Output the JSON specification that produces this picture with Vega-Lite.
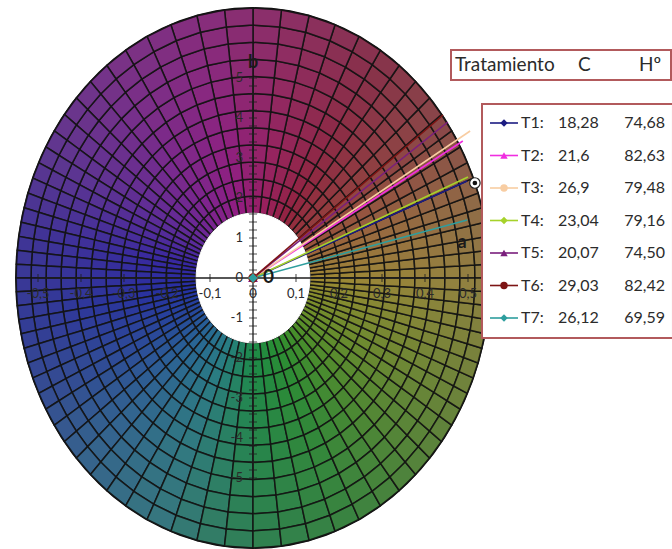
{
  "$schema": "https://vega.github.io/schema/vega-lite/v6.json",
  "width": 672,
  "height": 549,
  "padding": 0,
  "autosize": {"type": "none"},
  "background": "white",
  "config": {
    "view": {"stroke": null},
    "text": {"font": "Lato", "color": "#2b2b2b"},
    "locale": {"number": {"decimal": ",", "thousands": ".", "grouping": [3], "currency": ["", " €"], "minus": "-"}}
  },
  "datasets": {
    "hues": [
      {"h":0},{"h":4.5},{"h":9},{"h":13.5},{"h":18},{"h":22.5},{"h":27},{"h":31.5},{"h":36},{"h":40.5},
      {"h":45},{"h":49.5},{"h":54},{"h":58.5},{"h":63},{"h":67.5},{"h":72},{"h":76.5},{"h":81},{"h":85.5},
      {"h":90},{"h":94.5},{"h":99},{"h":103.5},{"h":108},{"h":112.5},{"h":117},{"h":121.5},{"h":126},{"h":130.5},
      {"h":135},{"h":139.5},{"h":144},{"h":148.5},{"h":153},{"h":157.5},{"h":162},{"h":166.5},{"h":171},{"h":175.5},
      {"h":180},{"h":184.5},{"h":189},{"h":193.5},{"h":198},{"h":202.5},{"h":207},{"h":211.5},{"h":216},{"h":220.5},
      {"h":225},{"h":229.5},{"h":234},{"h":238.5},{"h":243},{"h":247.5},{"h":252},{"h":256.5},{"h":261},{"h":265.5},
      {"h":270},{"h":274.5},{"h":279},{"h":283.5},{"h":288},{"h":292.5},{"h":297},{"h":301.5},{"h":306},{"h":310.5},
      {"h":315},{"h":319.5},{"h":324},{"h":328.5},{"h":333},{"h":337.5},{"h":342},{"h":346.5},{"h":351},{"h":355.5}
    ],
    "rings": [
      {"k":0,"f0":0.24,"f1":0.3033},{"k":1,"f0":0.3033,"f1":0.3667},{"k":2,"f0":0.3667,"f1":0.43},
      {"k":3,"f0":0.43,"f1":0.4933},{"k":4,"f0":0.4933,"f1":0.5567},{"k":5,"f0":0.5567,"f1":0.62},
      {"k":6,"f0":0.62,"f1":0.6833},{"k":7,"f0":0.6833,"f1":0.7467},{"k":8,"f0":0.7467,"f1":0.81},
      {"k":9,"f0":0.81,"f1":0.8733},{"k":10,"f0":0.8733,"f1":0.9367},{"k":11,"f0":0.9367,"f1":1.0}
    ],
    "treat": [
      {"t":"T1","n":1,"C":"18,28","H":"74,68","ea":0.498,"eb":2.425},
      {"t":"T2","n":2,"C":"21,6","H":"82,63","ea":0.488,"eb":3.425},
      {"t":"T3","n":3,"C":"26,9","H":"79,48","ea":0.505,"eb":3.675},
      {"t":"T4","n":4,"C":"23,04","H":"79,16","ea":0.5,"eb":2.525},
      {"t":"T5","n":5,"C":"20,07","H":"74,50","ea":0.453,"eb":3.9},
      {"t":"T6","n":6,"C":"29,03","H":"82,42","ea":0.442,"eb":4.075},
      {"t":"T7","n":7,"C":"26,12","H":"69,59","ea":0.498,"eb":1.45}
    ],
    "xt": [{"v":-0.5},{"v":-0.4},{"v":-0.3},{"v":-0.2},{"v":-0.1},{"v":0},{"v":0.1},{"v":0.2},{"v":0.3},{"v":0.4},{"v":0.5}],
    "yt": [
      {"v":-5},{"v":-4.8},{"v":-4.6},{"v":-4.4},{"v":-4.2},{"v":-4},{"v":-3.8},{"v":-3.6},{"v":-3.4},{"v":-3.2},
      {"v":-3},{"v":-2.8},{"v":-2.6},{"v":-2.4},{"v":-2.2},{"v":-2},{"v":-1.8},{"v":-1.6},{"v":-1.4},{"v":-1.2},
      {"v":-1},{"v":-0.8},{"v":-0.6},{"v":-0.4},{"v":-0.2},{"v":0},{"v":0.2},{"v":0.4},{"v":0.6},{"v":0.8},
      {"v":1},{"v":1.2},{"v":1.4},{"v":1.6},{"v":1.8},{"v":2},{"v":2.2},{"v":2.4},{"v":2.6},{"v":2.8},
      {"v":3},{"v":3.2},{"v":3.4},{"v":3.6},{"v":3.8},{"v":4},{"v":4.2},{"v":4.4},{"v":4.6},{"v":4.8},{"v":5}
    ],
    "yl": [{"v":-5},{"v":-4},{"v":-3},{"v":-2},{"v":-1},{"v":0},{"v":1},{"v":2},{"v":3},{"v":4},{"v":5}]
  },
  "resolve": {"scale": {"x": "independent", "y": "independent"}},
  "layer": [
    {
      "data": {"name": "hues"},
      "transform": [
        {"calculate": "0.551*cos(datum.h*PI/180)", "as": "x"},
        {"calculate": "6.75*sin(datum.h*PI/180)", "as": "y"}
      ],
      "mark": {"type": "line", "interpolate": "linear-closed", "fill": "#676070", "stroke": "#121212", "strokeWidth": 2},
      "encoding": {
        "x": {"field": "x", "type": "quantitative", "scale": {"domain": [-0.58837, 0.97442], "nice": false, "zero": false}, "axis": null},
        "y": {"field": "y", "type": "quantitative", "scale": {"domain": [-6.775, 6.95], "nice": false, "zero": false}, "axis": null},
        "order": {"field": "h", "type": "quantitative"}
      }
    },
    {
      "data": {"name": "hues"},
      "transform": [
        {"calculate": "[0,1,2,3,4,5,6,7,8,9,10,11]", "as": "k"},
        {"flatten": ["k"]},
        {"lookup": "k", "from": {"data": {"name": "rings"}, "key": "k", "fields": ["f0", "f1"]}},
        {"calculate": "[0,1,2,3]", "as": "v"},
        {"flatten": ["v"]},
        {"calculate": "(datum.v < 2 ? datum.h : datum.h + 4.5) * PI / 180", "as": "ph"},
        {"calculate": "atan2(0.65*sin(datum.ph), cos(datum.ph))", "as": "ps"},
        {"calculate": "(datum.v == 0 || datum.v == 3) ? datum.f0 : datum.f1", "as": "f"},
        {"calculate": "0.551*datum.f*cos(datum.ps)", "as": "x"},
        {"calculate": "6.75*datum.f*sin(datum.ps)", "as": "y"},
        {"calculate": "(atan2(0.74*sin((datum.h + 2.25)*PI/180), cos((datum.h + 2.25)*PI/180))*180/PI + 360) % 360", "as": "hp"},
        {"calculate": "datum.h + '_' + datum.k", "as": "cell"}
      ],
      "mark": {"type": "line", "interpolate": "linear-closed", "stroke": "#141414", "strokeWidth": 1.5, "strokeOpacity": 0.9},
      "encoding": {
        "x": {"field": "x", "type": "quantitative", "scale": {"domain": [-0.58837, 0.97442], "nice": false, "zero": false}, "axis": null},
        "y": {"field": "y", "type": "quantitative", "scale": {"domain": [-6.775, 6.95], "nice": false, "zero": false}, "axis": null},
        "detail": {"field": "cell", "type": "nominal"},
        "order": {"field": "v", "type": "quantitative"},
        "fill": {
          "field": "hp", "type": "quantitative", "legend": null,
          "scale": {
            "domain": [0, 20, 40, 60, 80, 100, 125, 150, 170, 190, 210, 230, 250, 270, 290, 310, 330, 350, 360],
            "range": ["#a08a34", "#9d6b3a", "#953f3c", "#92243f", "#99205c", "#921d80", "#7c248f", "#5a2a9a", "#3427a2", "#2430a2", "#26489c", "#286894", "#287e82", "#1d8b48", "#2a8e32", "#4c8e2a", "#6e8e2a", "#8e8c2e", "#a08a34"],
            "interpolate": "rgb"
          }
        },
        "fillOpacity": {"field": "k", "type": "quantitative", "legend": null, "scale": {"domain": [0, 11], "range": [1, 0.76]}}
      }
    },
    {
      "data": {"name": "hues"},
      "transform": [
        {"calculate": "0.551*0.24*cos(datum.h*PI/180)", "as": "x"},
        {"calculate": "6.75*0.24*sin(datum.h*PI/180)", "as": "y"}
      ],
      "mark": {"type": "line", "interpolate": "linear-closed", "fill": "white", "stroke": "white", "strokeWidth": 1},
      "encoding": {
        "x": {"field": "x", "type": "quantitative", "scale": {"domain": [-0.58837, 0.97442], "nice": false, "zero": false}, "axis": null},
        "y": {"field": "y", "type": "quantitative", "scale": {"domain": [-6.775, 6.95], "nice": false, "zero": false}, "axis": null},
        "order": {"field": "h", "type": "quantitative"}
      }
    },
    {
      "data": {"name": "treat"},
      "transform": [{"calculate": "0", "as": "o"}],
      "mark": {"type": "rule", "strokeWidth": 1.6},
      "encoding": {
        "x": {"field": "o", "type": "quantitative", "scale": {"domain": [-0.58837, 0.97442], "nice": false, "zero": false}, "axis": null},
        "y": {"field": "o", "type": "quantitative", "scale": {"domain": [-6.775, 6.95], "nice": false, "zero": false}, "axis": null},
        "x2": {"field": "ea"},
        "y2": {"field": "eb"},
        "color": {"field": "t", "type": "nominal", "legend": null,
          "scale": {"domain": ["T1","T2","T3","T4","T5","T6","T7"], "range": ["#1c1c82", "#f02ee0", "#f8cda2", "#a6d22a", "#7a1f7c", "#7d1414", "#2e9e9e"]}}
      }
    },
    {
      "data": {"values": [{"p": -0.5, "q": 0.5, "z": 0}]},
      "mark": {"type": "rule", "color": "#1e1e1e", "strokeWidth": 1.3},
      "encoding": {
        "x": {"field": "p", "type": "quantitative", "scale": {"domain": [-0.58837, 0.97442], "nice": false, "zero": false}, "axis": null},
        "x2": {"field": "q"},
        "y": {"field": "z", "type": "quantitative", "scale": {"domain": [-6.775, 6.95], "nice": false, "zero": false}, "axis": null}
      }
    },
    {
      "data": {"values": [{"p": -5, "q": 5, "z": 0}]},
      "mark": {"type": "rule", "color": "#1e1e1e", "strokeWidth": 1.3},
      "encoding": {
        "x": {"field": "z", "type": "quantitative", "scale": {"domain": [-0.58837, 0.97442], "nice": false, "zero": false}, "axis": null},
        "y": {"field": "p", "type": "quantitative", "scale": {"domain": [-6.775, 6.95], "nice": false, "zero": false}, "axis": null},
        "y2": {"field": "q"}
      }
    },
    {
      "data": {"name": "xt"},
      "transform": [{"calculate": "0", "as": "z"}],
      "mark": {"type": "tick", "orient": "vertical", "size": 8, "thickness": 1.2, "color": "#1e1e1e"},
      "encoding": {
        "x": {"field": "v", "type": "quantitative", "scale": {"domain": [-0.58837, 0.97442], "nice": false, "zero": false}, "axis": null},
        "y": {"field": "z", "type": "quantitative", "scale": {"domain": [-6.775, 6.95], "nice": false, "zero": false}, "axis": null}
      }
    },
    {
      "data": {"name": "yt"},
      "transform": [{"calculate": "0", "as": "z"}],
      "mark": {"type": "tick", "orient": "horizontal", "size": 8, "thickness": 1.1, "color": "#1e1e1e"},
      "encoding": {
        "x": {"field": "z", "type": "quantitative", "scale": {"domain": [-0.58837, 0.97442], "nice": false, "zero": false}, "axis": null},
        "y": {"field": "v", "type": "quantitative", "scale": {"domain": [-6.775, 6.95], "nice": false, "zero": false}, "axis": null}
      }
    },
    {
      "data": {"name": "xt"},
      "transform": [{"calculate": "0", "as": "z"}],
      "mark": {"type": "text", "dy": 16, "fontSize": 13, "baseline": "middle", "align": "center"},
      "encoding": {
        "x": {"field": "v", "type": "quantitative", "scale": {"domain": [-0.58837, 0.97442], "nice": false, "zero": false}, "axis": null},
        "y": {"field": "z", "type": "quantitative", "scale": {"domain": [-6.775, 6.95], "nice": false, "zero": false}, "axis": null},
        "text": {"field": "v", "type": "quantitative", "format": "~f"}
      }
    },
    {
      "data": {"name": "yl"},
      "transform": [{"calculate": "0", "as": "z"}],
      "mark": {"type": "text", "dx": -10, "fontSize": 13, "baseline": "middle", "align": "right"},
      "encoding": {
        "x": {"field": "z", "type": "quantitative", "scale": {"domain": [-0.58837, 0.97442], "nice": false, "zero": false}, "axis": null},
        "y": {"field": "v", "type": "quantitative", "scale": {"domain": [-6.775, 6.95], "nice": false, "zero": false}, "axis": null},
        "text": {"field": "v", "type": "quantitative", "format": "~f"}
      }
    },
    {
      "data": {"name": "treat"},
      "transform": [{"calculate": "0", "as": "o"}],
      "mark": {"type": "point", "filled": true, "size": 90, "opacity": 1},
      "encoding": {
        "x": {"field": "o", "type": "quantitative", "scale": {"domain": [-0.58837, 0.97442], "nice": false, "zero": false}, "axis": null},
        "y": {"field": "o", "type": "quantitative", "scale": {"domain": [-6.775, 6.95], "nice": false, "zero": false}, "axis": null},
        "color": {"field": "t", "type": "nominal", "legend": null},
        "shape": {"field": "t", "type": "nominal", "legend": null,
          "scale": {"domain": ["T1","T2","T3","T4","T5","T6","T7"], "range": ["diamond", "triangle-up", "circle", "diamond", "triangle-up", "circle", "diamond"]}}
      }
    },
    {
      "data": {"values": [{"a": 0.516, "b": 2.375}]},
      "mark": {"type": "point", "shape": "circle", "size": 110, "filled": true, "fill": "white", "stroke": "#222222", "strokeWidth": 1.2, "opacity": 1},
      "encoding": {
        "x": {"field": "a", "type": "quantitative", "scale": {"domain": [-0.58837, 0.97442], "nice": false, "zero": false}, "axis": null},
        "y": {"field": "b", "type": "quantitative", "scale": {"domain": [-6.775, 6.95], "nice": false, "zero": false}, "axis": null}
      }
    },
    {
      "data": {"values": [{"a": 0.516, "b": 2.375}]},
      "mark": {"type": "point", "shape": "circle", "size": 22, "filled": true, "color": "#111111", "opacity": 1},
      "encoding": {
        "x": {"field": "a", "type": "quantitative", "scale": {"domain": [-0.58837, 0.97442], "nice": false, "zero": false}, "axis": null},
        "y": {"field": "b", "type": "quantitative", "scale": {"domain": [-6.775, 6.95], "nice": false, "zero": false}, "axis": null}
      }
    },
    {
      "data": {"values": [{"a": 0.486, "b": 0.875, "s": "a"}, {"a": 0, "b": 5.375, "s": "b"}]},
      "mark": {"type": "text", "fontSize": 18, "fontWeight": "bold", "color": "#1a1a1a", "baseline": "middle", "align": "center"},
      "encoding": {
        "x": {"field": "a", "type": "quantitative", "scale": {"domain": [-0.58837, 0.97442], "nice": false, "zero": false}, "axis": null},
        "y": {"field": "b", "type": "quantitative", "scale": {"domain": [-6.775, 6.95], "nice": false, "zero": false}, "axis": null},
        "text": {"field": "s", "type": "nominal"}
      }
    },
    {
      "data": {"values": [{"a": 0.036, "b": 0.03, "s": "0"}]},
      "mark": {"type": "text", "fontSize": 19, "fontWeight": "bold", "color": "#1a1a1a", "baseline": "middle", "align": "center"},
      "encoding": {
        "x": {"field": "a", "type": "quantitative", "scale": {"domain": [-0.58837, 0.97442], "nice": false, "zero": false}, "axis": null},
        "y": {"field": "b", "type": "quantitative", "scale": {"domain": [-6.775, 6.95], "nice": false, "zero": false}, "axis": null},
        "text": {"field": "s", "type": "nominal"}
      }
    },
    {
      "data": {"values": [{"x0": 0, "x1": 10, "y0": -1.246, "y1": -0.323}, {"x0": 1.409, "x1": 10.09, "y0": 0.415, "y1": 7.615}]},
      "mark": {"type": "rect", "fill": "white", "stroke": "#b25a5c", "strokeWidth": 2},
      "encoding": {
        "x": {"field": "x0", "type": "quantitative", "scale": {"domain": [0, 10], "range": [451, 671], "nice": false, "zero": false}, "axis": null},
        "x2": {"field": "x1"},
        "y": {"field": "y0", "type": "quantitative", "scale": {"domain": [1, 7], "range": [123, 318], "nice": false, "zero": false}, "axis": null},
        "y2": {"field": "y1"}
      }
    },
    {
      "data": {"values": [{"label": "Tratamiento", "c": 0.18}, {"label": "C", "c": 5.77}, {"label": "Hº", "c": 8.55}]},
      "transform": [{"calculate": "-0.785", "as": "r"}],
      "mark": {"type": "text", "fontSize": 19, "align": "left", "baseline": "middle"},
      "encoding": {
        "x": {"field": "c", "type": "quantitative", "scale": {"domain": [0, 10], "range": [451, 671], "nice": false, "zero": false}, "axis": null},
        "y": {"field": "r", "type": "quantitative", "scale": {"domain": [1, 7], "range": [123, 318], "nice": false, "zero": false}, "axis": null},
        "text": {"field": "label", "type": "nominal"}
      }
    },
    {
      "data": {"name": "treat"},
      "transform": [{"calculate": "1.773", "as": "c0"}, {"calculate": "3.045", "as": "c1"}],
      "mark": {"type": "rule", "strokeWidth": 1.6},
      "encoding": {
        "x": {"field": "c0", "type": "quantitative", "scale": {"domain": [0, 10], "range": [451, 671], "nice": false, "zero": false}, "axis": null},
        "x2": {"field": "c1"},
        "y": {"field": "n", "type": "quantitative", "scale": {"domain": [1, 7], "range": [123, 318], "nice": false, "zero": false}, "axis": null},
        "color": {"field": "t", "type": "nominal", "legend": null}
      }
    },
    {
      "data": {"name": "treat"},
      "transform": [{"calculate": "2.409", "as": "c0"}],
      "mark": {"type": "point", "filled": true, "size": 55, "opacity": 1},
      "encoding": {
        "x": {"field": "c0", "type": "quantitative", "scale": {"domain": [0, 10], "range": [451, 671], "nice": false, "zero": false}, "axis": null},
        "y": {"field": "n", "type": "quantitative", "scale": {"domain": [1, 7], "range": [123, 318], "nice": false, "zero": false}, "axis": null},
        "color": {"field": "t", "type": "nominal", "legend": null},
        "shape": {"field": "t", "type": "nominal", "legend": null}
      }
    },
    {
      "data": {"name": "treat"},
      "transform": [{"calculate": "datum.t + ':'", "as": "lab"}, {"calculate": "3.18", "as": "c0"}],
      "mark": {"type": "text", "fontSize": 16, "align": "left", "baseline": "middle"},
      "encoding": {
        "x": {"field": "c0", "type": "quantitative", "scale": {"domain": [0, 10], "range": [451, 671], "nice": false, "zero": false}, "axis": null},
        "y": {"field": "n", "type": "quantitative", "scale": {"domain": [1, 7], "range": [123, 318], "nice": false, "zero": false}, "axis": null},
        "text": {"field": "lab", "type": "nominal"}
      }
    },
    {
      "data": {"name": "treat"},
      "transform": [{"calculate": "4.864", "as": "c0"}],
      "mark": {"type": "text", "fontSize": 16, "align": "left", "baseline": "middle"},
      "encoding": {
        "x": {"field": "c0", "type": "quantitative", "scale": {"domain": [0, 10], "range": [451, 671], "nice": false, "zero": false}, "axis": null},
        "y": {"field": "n", "type": "quantitative", "scale": {"domain": [1, 7], "range": [123, 318], "nice": false, "zero": false}, "axis": null},
        "text": {"field": "C", "type": "nominal"}
      }
    },
    {
      "data": {"name": "treat"},
      "transform": [{"calculate": "9.727", "as": "c0"}],
      "mark": {"type": "text", "fontSize": 16, "align": "right", "baseline": "middle"},
      "encoding": {
        "x": {"field": "c0", "type": "quantitative", "scale": {"domain": [0, 10], "range": [451, 671], "nice": false, "zero": false}, "axis": null},
        "y": {"field": "n", "type": "quantitative", "scale": {"domain": [1, 7], "range": [123, 318], "nice": false, "zero": false}, "axis": null},
        "text": {"field": "H", "type": "nominal"}
      }
    }
  ]
}
